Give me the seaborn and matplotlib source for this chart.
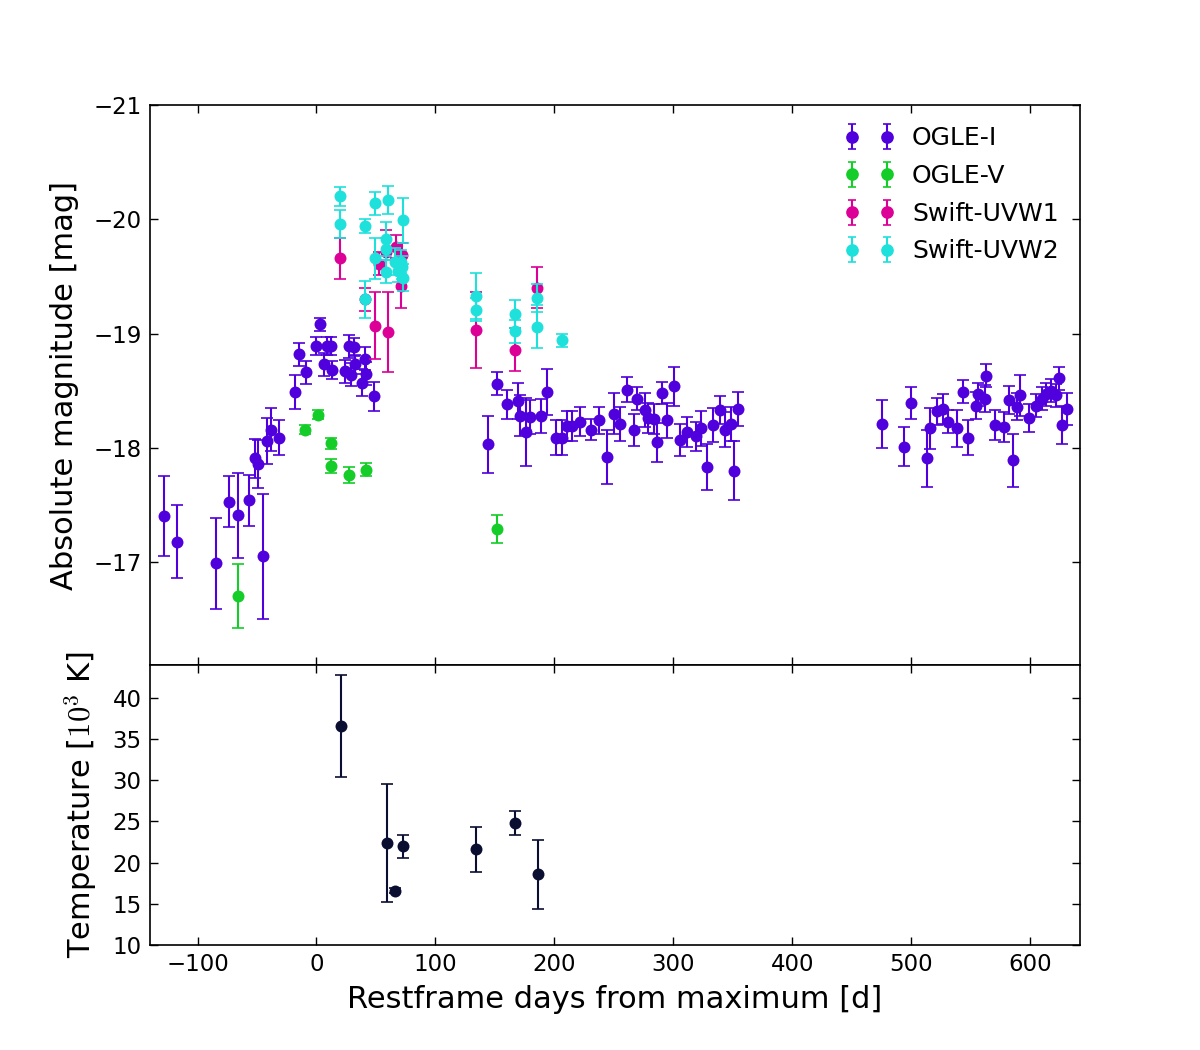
import numpy as np
import pandas as pd
import matplotlib
matplotlib.use("Agg")
import matplotlib.pyplot as plt
import seaborn as sns

# ---------------- data ----------------
ogle_i_days = [-128.1, -117.2, -84.4, -73.8, -65.6, -56.6, -51.9, -48.8, -45.2, -41.8,
               -37.9, -31.7, -17.7, -14.9, -9.2, 2.8, -0.3, 8.7, 12.3, 6.2,
               12.9, 27.2, 31.4, 23.6, 28.6, 32.5, 40.4, 38.4, 41.8, 48.5,
               144.4, 151.7, 160.4, 169.4, 170.8, 176.4, 179.8, 189.0, 194.1, 201.7,
               206.1, 210.9, 214.5, 221.3, 231.1, 237.3, 244.3, 249.9, 254.9, 261.4,
               266.7, 269.5, 276.5, 278.8, 283.5, 286.0, 290.8, 295.0, 300.6, 305.7,
               311.9, 318.9, 323.6, 328.1, 333.4, 339.0, 343.3, 348.3, 351.1, 354.2,
               475.1, 493.6, 499.7, 513.2, 516.0, 521.9, 527.0, 531.1, 538.2, 543.8,
               548.0, 554.2, 556.4, 561.7, 563.1, 570.2, 577.8, 582.0, 585.3, 589.2,
               591.5, 599.0, 604.6, 609.7, 613.3, 617.3, 621.7, 624.0, 626.5, 631.2]
ogle_i_mag = [-17.40, -17.18, -16.99, -17.53, -17.41, -17.54, -17.91, -17.86, -17.05, -18.06,
              -18.16, -18.09, -18.49, -18.82, -18.66, -19.08, -18.89, -18.89, -18.89, -18.73,
              -18.68, -18.89, -18.88, -18.67, -18.64, -18.73, -18.78, -18.57, -18.65, -18.45,
              -18.03, -18.56, -18.38, -18.41, -18.28, -18.14, -18.27, -18.28, -18.49, -18.09,
              -18.09, -18.19, -18.19, -18.23, -18.16, -18.24, -17.92, -18.30, -18.21, -18.51,
              -18.16, -18.43, -18.33, -18.26, -18.25, -18.05, -18.48, -18.24, -18.54, -18.07,
              -18.14, -18.10, -18.17, -17.83, -18.20, -18.33, -18.16, -18.21, -17.80, -18.34,
              -18.21, -18.01, -18.39, -17.91, -18.17, -18.32, -18.34, -18.23, -18.17, -18.49,
              -18.09, -18.37, -18.47, -18.43, -18.63, -18.20, -18.18, -18.42, -17.89, -18.36,
              -18.46, -18.26, -18.37, -18.43, -18.47, -18.50, -18.46, -18.61, -18.20, -18.34]
ogle_i_err = [0.35, 0.32, 0.40, 0.22, 0.37, 0.22, 0.17, 0.21, 0.55, 0.20,
              0.19, 0.15, 0.15, 0.10, 0.10, 0.06, 0.08, 0.08, 0.08, 0.10,
              0.08, 0.10, 0.08, 0.10, 0.10, 0.08, 0.10, 0.12, 0.10, 0.13,
              0.25, 0.10, 0.13, 0.16, 0.18, 0.30, 0.15, 0.15, 0.20, 0.15,
              0.15, 0.13, 0.13, 0.13, 0.09, 0.12, 0.24, 0.18, 0.15, 0.11,
              0.14, 0.10, 0.15, 0.13, 0.13, 0.17, 0.10, 0.15, 0.17, 0.14,
              0.13, 0.13, 0.15, 0.20, 0.15, 0.12, 0.15, 0.15, 0.26, 0.15,
              0.21, 0.17, 0.14, 0.25, 0.18, 0.12, 0.13, 0.10, 0.16, 0.10,
              0.15, 0.12, 0.10, 0.12, 0.10, 0.13, 0.13, 0.12, 0.23, 0.12,
              0.18, 0.12, 0.10, 0.10, 0.10, 0.10, 0.10, 0.10, 0.17, 0.14]

ogle_v_days = [-65.9, -9.8, 1.4, 11.8, 12.6, 27.2, 42.0, 151.4]
ogle_v_mag = [-16.70, -18.16, -18.29, -18.04, -17.84, -17.76, -17.81, -17.29]
ogle_v_err = [0.28, 0.04, 0.04, 0.05, 0.06, 0.07, 0.06, 0.12]

uvw1_days = [19.9, 40.4, 48.8, 60.0, 52.4, 58.6, 67.0, 72.1, 71.2, 133.8, 166.9, 185.1]
uvw1_mag = [-19.66, -19.30, -19.07, -19.01, -19.61, -19.71, -19.76, -19.69, -19.42,
            -19.03, -18.86, -19.40]
uvw1_err = [0.18, 0.10, 0.29, 0.35, 0.10, 0.20, 0.10, 0.10, 0.20, 0.33, 0.19, 0.18]

uvw2_days = [19.9, 19.9, 40.4, 48.8, 60.0, 72.6, 40.4, 48.8, 58.6, 58.6, 58.6, 65.6,
             68.4, 72.1, 72.6, 71.2, 133.8, 133.8, 166.9, 166.9, 185.1, 185.1, 206.4]
uvw2_mag = [-20.20, -19.96, -19.94, -20.14, -20.17, -19.99, -19.30, -19.66, -19.83,
            -19.74, -19.54, -19.63, -19.55, -19.58, -19.49, -19.63, -19.33, -19.21,
            -19.17, -19.02, -19.31, -19.06, -18.94]
uvw2_err = [0.08, 0.12, 0.06, 0.10, 0.12, 0.20, 0.16, 0.18, 0.15, 0.10, 0.10, 0.12,
            0.10, 0.10, 0.12, 0.10, 0.20, 0.10, 0.12, 0.10, 0.12, 0.19, 0.06]

temp_days = [20.3, 59.0, 66.0, 73.0, 134.0, 167.0, 186.0]
temp_vals = [36.6, 22.4, 16.6, 22.0, 21.6, 24.8, 18.6]
temp_err = [6.2, 7.2, 0.3, 1.4, 2.7, 1.5, 4.2]

series_names = ["OGLE-I", "OGLE-V", "Swift-UVW1", "Swift-UVW2"]
series_colors = ["#5000DC", "#14CD28", "#DC0096", "#1EE1DC"]
temp_color = "#0A0F32"

x_ticks = [-100, 0, 100, 200, 300, 400, 500, 600]
mag_ticks = [-21, -20, -19, -18, -17]
temp_ticks = [10, 15, 20, 25, 30, 35, 40]

# ---------------- style ----------------
sns.set_style("ticks", {"xtick.direction": "in", "ytick.direction": "in",
                        "axes.edgecolor": "black", "text.color": "black",
                        "axes.labelcolor": "black", "xtick.color": "black",
                        "ytick.color": "black"})
plt.rcParams["font.family"] = ["DejaVu Sans"]
plt.rcParams["axes.unicode_minus"] = True
plt.rcParams["mathtext.fontset"] = "cm"

fig, (ax1, ax2) = plt.subplots(2, 1, figsize=(12, 10.5), dpi=100, sharex=True,
                               gridspec_kw={"height_ratios": [2, 1], "hspace": 0})
fig.subplots_adjust(left=0.125, right=0.9, top=0.9, bottom=0.1)

ms = 8.6
groups = [(ogle_i_days, ogle_i_mag, ogle_i_err),
          (ogle_v_days, ogle_v_mag, ogle_v_err),
          (uvw1_days, uvw1_mag, uvw1_err),
          (uvw2_days, uvw2_mag, uvw2_err)]

handles = []
for k, ((d, m, e), name, col) in enumerate(zip(groups, series_names, series_colors)):
    z = 2 + 2 * k
    ax1.errorbar(d, m, yerr=e, fmt="none", ecolor=col, elinewidth=1.5,
                 capsize=4, capthick=1.2, zorder=z)
    df = pd.DataFrame({"day": d, "mag": m})
    sns.scatterplot(data=df, x="day", y="mag", ax=ax1, color=col, s=ms ** 2,
                    linewidth=0, legend=False, zorder=z + 1)
    h = ax1.errorbar([np.nan], [np.nan], yerr=[0.1], fmt="o", color=col, ms=ms - 0.5,
                     mec=col, elinewidth=1.5, capsize=3, capthick=1.2, label=name)
    handles.append(h)

ax1.set_xlim(-140, 642)
ax1.set_ylim(-16.1, -21)
ax1.set_yticks(mag_ticks)
ax1.set_ylabel("Absolute magnitude [mag]", fontsize=22, labelpad=10)
ax1.legend(handles=handles, labels=series_names, loc="upper right", numpoints=2,
           frameon=False, fontsize=18, borderaxespad=0.45, handletextpad=0.7,
           labelspacing=0.55)

# temperature panel
ax2.errorbar(temp_days, temp_vals, yerr=temp_err, fmt="none", ecolor=temp_color,
             elinewidth=1.5, capsize=4, capthick=1.2, zorder=2)
tdf = pd.DataFrame({"day": temp_days, "T": temp_vals})
sns.scatterplot(data=tdf, x="day", y="T", ax=ax2, color=temp_color, s=ms ** 2,
                linewidth=0, legend=False, zorder=3)
ax2.set_ylim(10, 44)
ax2.set_yticks(temp_ticks)
ax2.set_xticks(x_ticks)
ax2.set_xlabel("Restframe days from maximum [d]", fontsize=22, labelpad=6)
ax2.set_ylabel(r"Temperature [$10^3$ K]", fontsize=22, labelpad=10)

for ax in (ax1, ax2):
    ax.tick_params(axis="both", which="both", direction="in", top=True, right=True,
                   length=6, width=1, labelsize=16.5, colors="black", pad=6)
    for sp in ax.spines.values():
        sp.set_linewidth(1.2)
        sp.set_visible(True)
        sp.set_color("black")
ax1.tick_params(labelbottom=False)
ax1.set_xlabel("")

fig.savefig("out.png", dpi=100)
